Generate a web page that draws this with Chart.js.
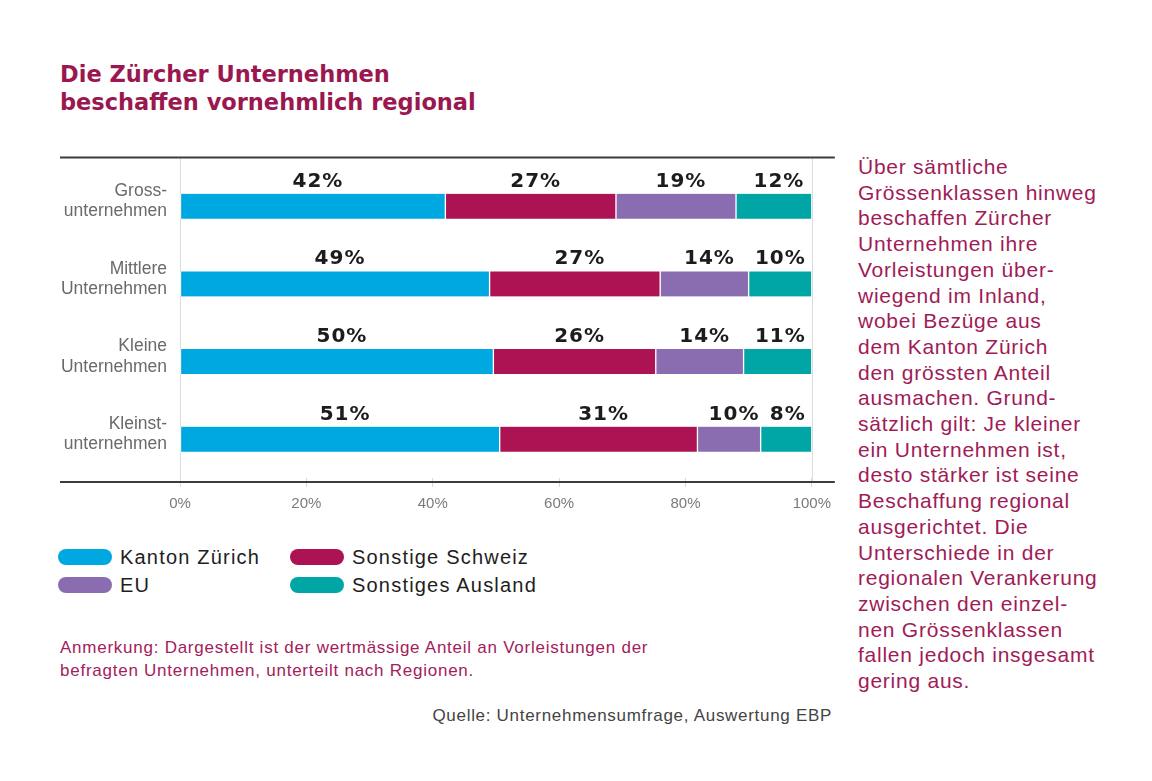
<!DOCTYPE html>
<html lang="de">
<head>
<meta charset="utf-8">
<title>Die Zürcher Unternehmen beschaffen vornehmlich regional</title>
<script src="https://cdn.jsdelivr.net/npm/chart.js@4.4.1/dist/chart.umd.min.js"></script>
<style>
  html, body { margin: 0; padding: 0; background: #fff; }
  body { width: 1152px; height: 781px; position: relative; overflow: hidden;
         font-family: "Liberation Sans", Arial, sans-serif; }
  h1 { position: absolute; left: 60px; top: 60px; margin: 0;
       font: bold 22.5px/28px "DejaVu Sans", sans-serif; color: #9a174f; }
  #chartBox { position: absolute; left: 60px; top: 134px; }
  #legend { position: absolute; left: 58px; top: 547px; display: grid;
            grid-template-columns: 232px 260px; row-gap: 8px; }
  .lg-item { display: flex; align-items: center; height: 20px;
             font-size: 20px; letter-spacing: 1.2px; color: #1e1e1e; }
  .lg-pill { width: 54px; height: 16px; border-radius: 8px; margin-right: 8px; }
  #note { position: absolute; left: 60px; top: 636px; margin: 0;
          font-size: 17px; line-height: 23px; letter-spacing: 0.75px; color: #a2215b; }
  #source { position: absolute; right: 320px; top: 706px; margin: 0;
            font-size: 17px; letter-spacing: 0.7px; color: #444; }
  #side { position: absolute; left: 858px; top: 154px; margin: 0;
          font-size: 21px; line-height: 25.7px; letter-spacing: 0.75px; color: #a01b57; }
</style>
</head>
<body>
<h1>Die Zürcher Unternehmen<br>beschaffen vornehmlich regional</h1>

<div id="chartBox"><canvas id="shareChart" width="779" height="393"></canvas></div>

<div id="legend"></div>

<p id="note">Anmerkung: Dargestellt ist der wertmässige Anteil an Vorleistungen der<br>befragten Unternehmen, unterteilt nach Regionen.</p>
<p id="source">Quelle: Unternehmensumfrage, Auswertung EBP</p>

<p id="side">Über sämtliche<br>Grössenklassen hinweg<br>beschaffen Zürcher<br>Unternehmen ihre<br>Vorleistungen über-<br>wiegend im Inland,<br>wobei Bezüge aus<br>dem Kanton Zürich<br>den grössten Anteil<br>ausmachen. Grund-<br>sätzlich gilt: Je kleiner<br>ein Unternehmen ist,<br>desto stärker ist seine<br>Beschaffung regional<br>ausgerichtet. Die<br>Unterschiede in der<br>regionalen Verankerung<br>zwischen den einzel-<br>nen Grössenklassen<br>fallen jedoch insgesamt<br>gering aus.</p>

<script>
// Daten (Anteil in %)
const categories = [
    ['Gross-', 'unternehmen'],
    ['Mittlere', 'Unternehmen'],
    ['Kleine', 'Unternehmen'],
    ['Kleinst-', 'unternehmen']
];
const kantonZuerich   = [42, 49, 49.6, 50.6];
const sonstigeSchweiz = [27, 27, 25.7, 31.3];
const eu              = [19, 14, 13.9, 10.0];
const sonstAusland    = [12, 10, 10.8, 8.1];
const xTicks = [0, 20, 40, 60, 80, 100];

const seriesNames  = ['Kanton Zürich', 'Sonstige Schweiz', 'EU', 'Sonstiges Ausland'];
const seriesColors = ['#00a8e2', '#ad1352', '#8a6db1', '#00a5a5'];
const seriesData   = [kantonZuerich, sonstigeSchweiz, eu, sonstAusland];

// Rahmenlinien oben/unten + Linien bei 0% und 100%
const framePlugin = {
    id: 'frame',
    beforeDatasetsDraw(chart) {
        const {ctx, chartArea, scales} = chart;
        const top = chartArea.top - 10, bottom = chartArea.bottom + 4;
        ctx.save();
        ctx.strokeStyle = '#dcdcdc';
        ctx.lineWidth = 1;
        [xTicks[0], xTicks[xTicks.length - 1]].forEach(v => {
            const x = Math.round(scales.x.getPixelForValue(v)) + 0.5;
            ctx.beginPath();
            ctx.moveTo(x, top);
            ctx.lineTo(x, bottom);
            ctx.stroke();
        });
        ctx.restore();
    },
    afterDraw(chart) {
        const {ctx, chartArea} = chart;
        ctx.save();
        ctx.strokeStyle = '#3c3c3c';
        ctx.lineWidth = 2;
        [chartArea.top - 10, chartArea.bottom + 4].forEach(y => {
            ctx.beginPath();
            ctx.moveTo(0, y);
            ctx.lineTo(chartArea.right + 23, y);
            ctx.stroke();
        });
        ctx.restore();
    }
};

// Prozentwerte über den Segmenten
const valueLabels = {
    id: 'valueLabels',
    afterDatasetsDraw(chart) {
        const {ctx, chartArea} = chart;
        ctx.save();
        ctx.font = 'bold 20px "DejaVu Sans", sans-serif';
        ctx.letterSpacing = '1px';
        ctx.fillStyle = '#1c1c1c';
        ctx.textAlign = 'left';
        ctx.textBaseline = 'alphabetic';
        chart.data.datasets.forEach((ds, i) => {
            chart.getDatasetMeta(i).data.forEach((bar, j) => {
                const txt = Math.round(ds.data[j]) + '%';
                const w = ctx.measureText(txt).width;
                let cx = (bar.x + bar.base) / 2 + 5;
                if (cx + w / 2 > chartArea.right - 6) cx = chartArea.right - 6 - w / 2;
                ctx.fillText(txt, cx - w / 2, bar.y - bar.height / 2 - 7);
            });
        });
        ctx.restore();
    }
};

new Chart(document.getElementById('shareChart'), {
    type: 'bar',
    data: {
        labels: categories,
        datasets: seriesNames.map((name, i) => ({
            label: name,
            data: seriesData[i],
            backgroundColor: seriesColors[i],
            borderColor: '#ffffff',
            borderWidth: {top: 0, bottom: 0, left: 1, right: 1},
            borderSkipped: false,
            barThickness: 25
        }))
    },
    options: {
        indexAxis: 'y',
        responsive: false,
        animation: false,
        layout: {padding: {top: 33, right: 23, bottom: 14, left: 0}},
        plugins: {legend: {display: false}, tooltip: {enabled: false}},
        scales: {
            x: {
                stacked: true,
                min: 0,
                max: 100,
                afterBuildTicks: s => { s.ticks = xTicks.map(v => ({value: v})); },
                border: {display: false},
                grid: {drawOnChartArea: false, tickColor: '#d8d8d8', tickLength: 9},
                ticks: {
                    padding: 8,
                    color: '#7a7a7a',
                    font: {family: '"Liberation Sans", Arial, sans-serif', size: 15},
                    callback: v => v + '%'
                },
                afterFit: s => { s.height = 35; }
            },
            y: {
                stacked: true,
                border: {display: false},
                grid: {display: false, drawTicks: false},
                ticks: {
                    padding: 13,
                    labelOffset: -5,
                    color: '#6a6a6a',
                    font: {family: '"Liberation Sans", Arial, sans-serif', size: 17.5, lineHeight: 1.17}
                },
                afterFit: s => { s.width = 120; }
            }
        }
    },
    plugins: [framePlugin, valueLabels]
});

// Legende aus den Serien
const legendEl = document.getElementById('legend');
seriesNames.forEach((name, i) => {
    const item = document.createElement('div');
    item.className = 'lg-item';
    const pill = document.createElement('span');
    pill.className = 'lg-pill';
    pill.style.background = seriesColors[i];
    item.appendChild(pill);
    item.appendChild(document.createTextNode(name));
    legendEl.appendChild(item);
});
</script>
</body>
</html>
